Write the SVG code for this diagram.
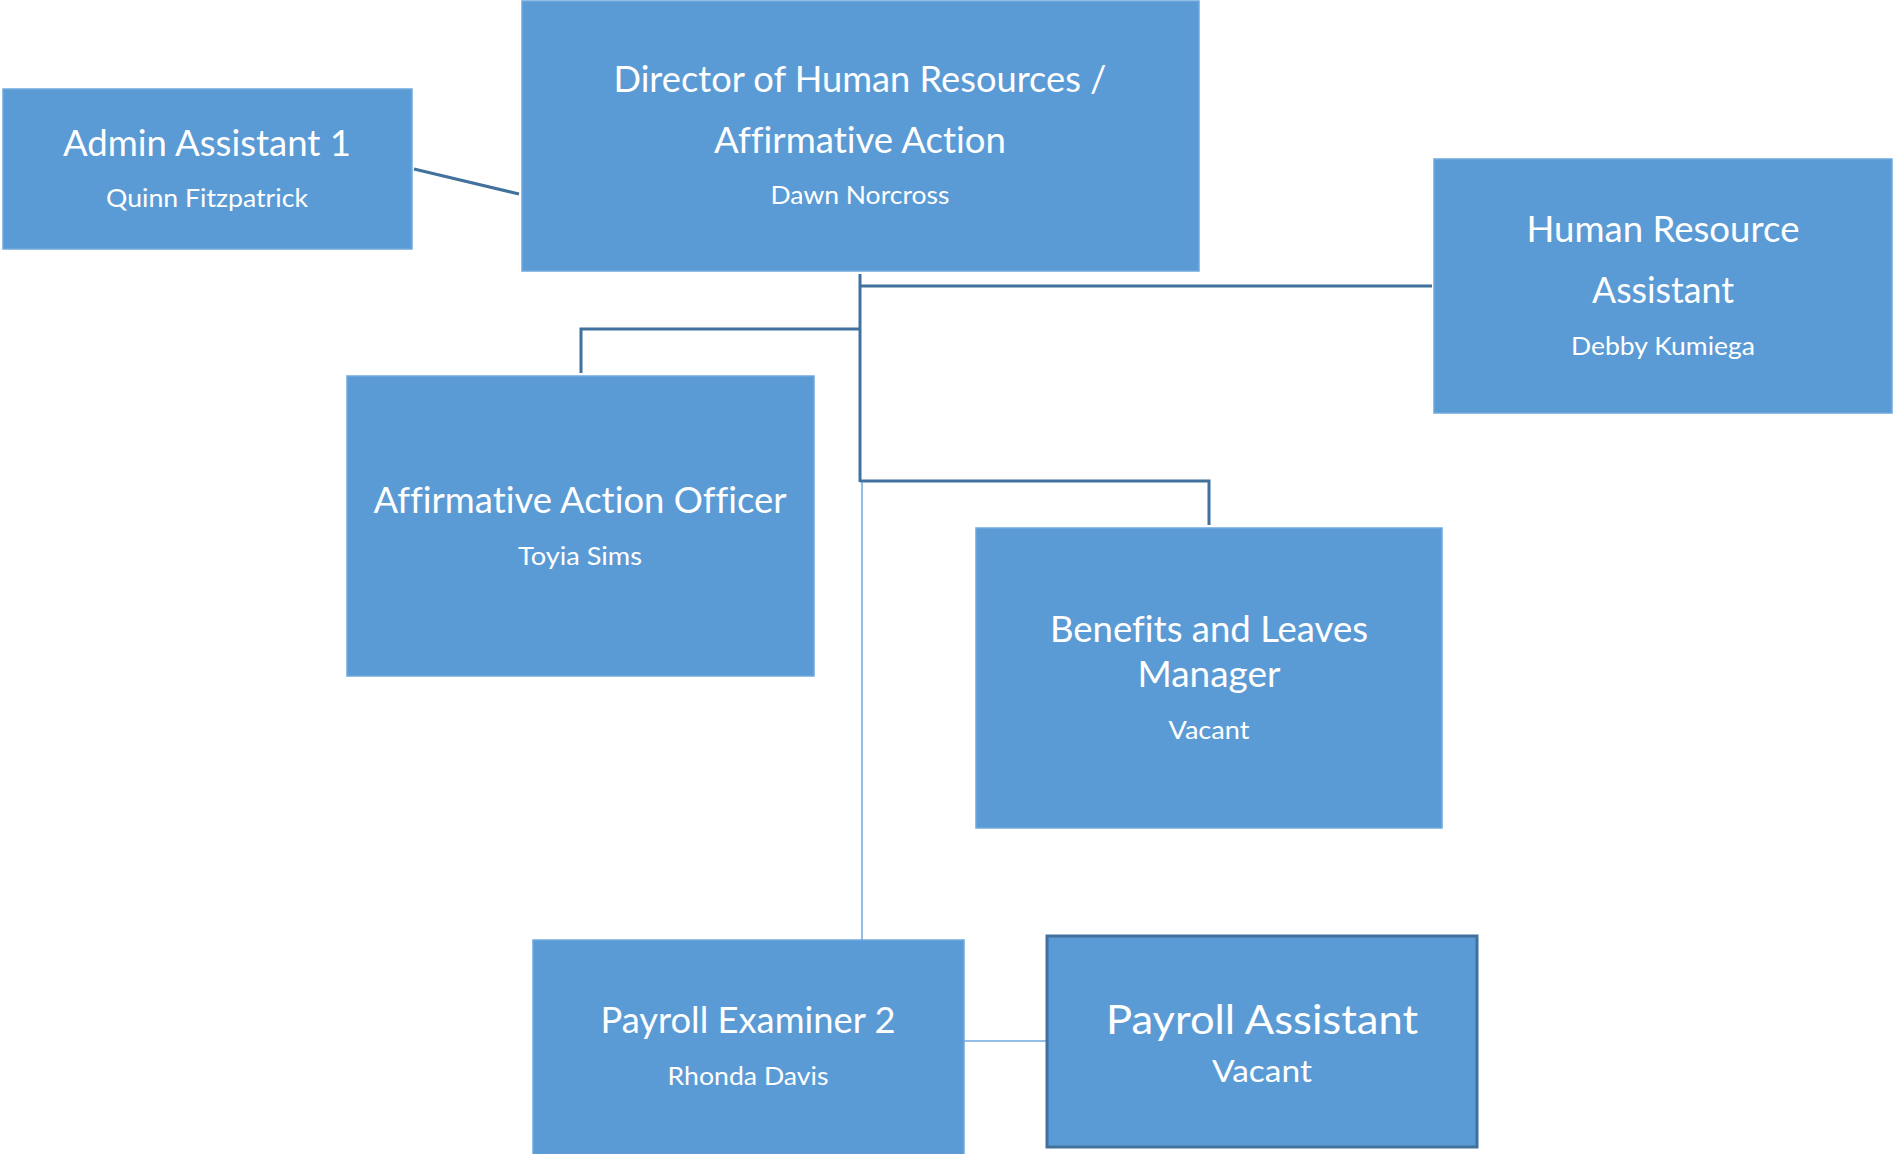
<svg xmlns="http://www.w3.org/2000/svg" width="1893" height="1154" viewBox="0 0 1893 1154">
<style>
.box{fill:#5B9BD5;stroke:#6FA8DC;stroke-width:1.5}
.box2{fill:#5B9BD5;stroke:#41719C;stroke-width:3}
.t{font-family:Lato,"Open Sans","Liberation Sans",sans-serif;fill:#FFFFFF;text-anchor:middle;font-variant-ligatures:none}
.h{font-size:36px}
.s{font-size:25px}
.dark{fill:none;stroke:#41719C;stroke-width:3}
.light{fill:none;stroke:#6FA8DC;stroke-width:1.5}
</style>
<rect width="1893" height="1154" fill="#FFFFFF"/>
<g id="connectors">
<line class="dark" x1="414" y1="169" x2="519" y2="194"/>
<line class="dark" x1="860" y1="274" x2="860" y2="482"/>
<line class="dark" x1="860" y1="286" x2="1432" y2="286"/>
<path class="dark" d="M860,329 H581 V373"/>
<path class="dark" d="M860,481 H1209 V525"/>
<line class="light" x1="862" y1="482" x2="862" y2="940"/>
<line class="light" x1="964" y1="1041" x2="1047" y2="1041"/>
</g>
<g id="admin">
<rect class="box" x="3" y="89" width="409" height="160"/>
<text class="t h" x="207" y="156" textLength="288" lengthAdjust="spacingAndGlyphs">Admin Assistant 1</text>
<text class="t s" x="207" y="207" textLength="202" lengthAdjust="spacingAndGlyphs">Quinn Fitzpatrick</text>
</g>
<g id="director">
<rect class="box" x="522" y="1" width="677" height="270"/>
<text class="t h" x="860" y="92" textLength="493" lengthAdjust="spacingAndGlyphs">Director of Human Resources /</text>
<text class="t h" x="860" y="153" textLength="292" lengthAdjust="spacingAndGlyphs">Affirmative Action</text>
<text class="t s" x="860" y="204" textLength="179" lengthAdjust="spacingAndGlyphs">Dawn Norcross</text>
</g>
<g id="hr-assistant">
<rect class="box" x="1434" y="159" width="458" height="254"/>
<text class="t h" x="1663" y="242" textLength="273" lengthAdjust="spacingAndGlyphs">Human Resource</text>
<text class="t h" x="1663" y="303" textLength="142" lengthAdjust="spacingAndGlyphs">Assistant</text>
<text class="t s" x="1663" y="355" textLength="184" lengthAdjust="spacingAndGlyphs">Debby Kumiega</text>
</g>
<g id="aa-officer">
<rect class="box" x="347" y="376" width="467" height="300"/>
<text class="t h" x="580" y="513" textLength="413" lengthAdjust="spacingAndGlyphs">Affirmative Action Officer</text>
<text class="t s" x="580" y="565" textLength="124" lengthAdjust="spacingAndGlyphs">Toyia Sims</text>
</g>
<g id="benefits">
<rect class="box" x="976" y="528" width="466" height="300"/>
<text class="t h" x="1209" y="642" textLength="318" lengthAdjust="spacingAndGlyphs">Benefits and Leaves</text>
<text class="t h" x="1209" y="687" textLength="143" lengthAdjust="spacingAndGlyphs">Manager</text>
<text class="t s" x="1209" y="739" textLength="81" lengthAdjust="spacingAndGlyphs">Vacant</text>
</g>
<g id="payroll-examiner">
<rect class="box" x="533" y="940" width="431" height="220"/>
<text class="t h" x="748" y="1033" textLength="295" lengthAdjust="spacingAndGlyphs">Payroll Examiner 2</text>
<text class="t s" x="748" y="1085" textLength="161" lengthAdjust="spacingAndGlyphs">Rhonda Davis</text>
</g>
<g id="payroll-assistant">
<rect class="box2" x="1047" y="936" width="430" height="211"/>
<text class="t" style="font-size:40px" x="1262" y="1034" textLength="312" lengthAdjust="spacingAndGlyphs">Payroll Assistant</text>
<text class="t" style="font-size:30px" x="1262" y="1082" textLength="100" lengthAdjust="spacingAndGlyphs">Vacant</text>
</g>
</svg>
